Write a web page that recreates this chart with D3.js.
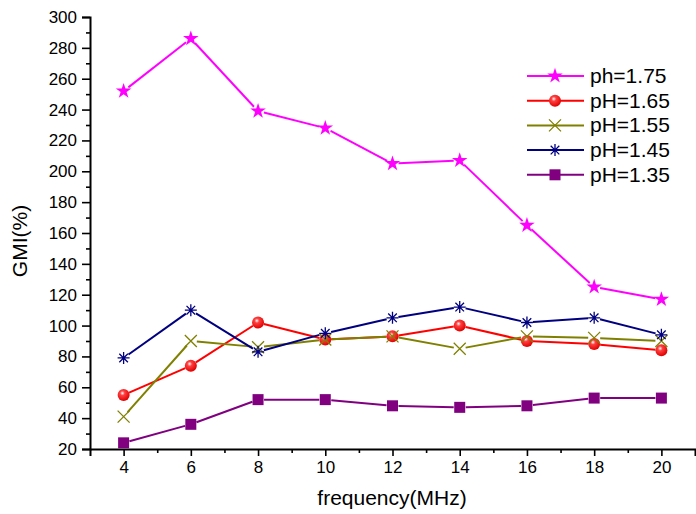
<!DOCTYPE html>
<html>
<head>
<meta charset="utf-8">
<script src="https://cdn.jsdelivr.net/npm/d3@7"></script>
<style>
  body { margin: 0; background: #fff; }
  svg { font-family: Arial, "Liberation Sans", sans-serif; }
</style>
</head>
<body>
<svg id="chart" width="696" height="514"></svg>
<script>
const freq = [4, 6, 8, 10, 12, 14, 16, 18, 20]
const ph175 = [252, 286, 239, 228, 205, 207, 165, 125, 117]
const ph165 = [55, 74, 102, 91, 93, 100, 90, 88, 84]
const ph155 = [41, 90, 86, 91, 93, 85, 93, 92, 90]
const ph145 = [79, 110, 83, 95, 105, 112, 102, 105, 94]
const ph135 = [24, 36, 52, 52, 48, 47, 48, 53, 53]
const seriesNames = ['ph=1.75', 'pH=1.65', 'pH=1.55', 'pH=1.45', 'pH=1.35']
const xTicks = [4, 6, 8, 10, 12, 14, 16, 18, 20]
const yTicks = [20, 40, 60, 80, 100, 120, 140, 160, 180, 200, 220, 240, 260, 280, 300]

const series = [
  { name: seriesNames[0], values: ph175, color: '#ff00ff', marker: 'star' },
  { name: seriesNames[1], values: ph165, color: '#ff0000', marker: 'ball' },
  { name: seriesNames[2], values: ph155, color: '#808000', marker: 'cross' },
  { name: seriesNames[3], values: ph145, color: '#000080', marker: 'asterisk' },
  { name: seriesNames[4], values: ph135, color: '#800080', marker: 'square' }
]

const svg = d3.select('#chart')
const x = d3.scaleLinear().domain([3, 21]).range([90, 695])
const y = d3.scaleLinear().domain([20, 300]).range([449, 17])

// gradient for the shiny red balls
const grad = svg.append('defs').append('radialGradient')
  .attr('id', 'ball').attr('cx', '40%').attr('cy', '35%').attr('r', '65%')
grad.append('stop').attr('offset', '0%').attr('stop-color', '#ffffff')
grad.append('stop').attr('offset', '30%').attr('stop-color', '#ff4040')
grad.append('stop').attr('offset', '100%').attr('stop-color', '#e00000')

// axes
const xAxis = svg.append('g').attr('transform', `translate(0,${y(20)})`)
  .call(d3.axisBottom(x).tickValues(xTicks).tickSize(7).tickPadding(5))
svg.append('g').attr('transform', `translate(0,${y(20)})`)
  .call(d3.axisBottom(x).tickValues(d3.range(5, 21, 2)).tickSize(4).tickFormat(''))
  .select('.domain').remove()

const yAxis = svg.append('g').attr('transform', `translate(${x(3)},0)`)
  .call(d3.axisLeft(y).tickValues(yTicks).tickSize(8).tickPadding(5))
svg.append('g').attr('transform', `translate(${x(3)},0)`)
  .call(d3.axisLeft(y).tickValues(d3.range(30, 300, 20)).tickSize(4).tickFormat(''))
  .select('.domain').remove()

svg.selectAll('.domain').attr('stroke-width', 2)
svg.selectAll('.tick line').attr('stroke-width', 1.6)
xAxis.selectAll('text').attr('font-size', 17).attr('fill', '#000')
yAxis.selectAll('text').attr('font-size', 17).attr('fill', '#000')
svg.selectAll('.tick text').attr('font-family', 'Arial, "Liberation Sans", sans-serif')

svg.append('text').attr('x', 392).attr('y', 505).attr('text-anchor', 'middle')
  .attr('font-size', 21).text('frequency(MHz)')
svg.append('text').attr('transform', 'translate(27,241) rotate(-90)').attr('text-anchor', 'middle')
  .attr('font-size', 21).text('GMI(%)')

function drawMarker (g, kind, color) {
  if (kind === 'star') {
    g.append('path').attr('d', d3.symbol(d3.symbolStar, 75)()).attr('fill', color)
  } else if (kind === 'ball') {
    g.append('circle').attr('r', 6).attr('fill', 'url(#ball)')
  } else if (kind === 'cross') {
    g.append('path').attr('d', 'M-6,-6L6,6M-6,6L6,-6').attr('stroke', color).attr('stroke-width', 1.3).attr('fill', 'none')
  } else if (kind === 'asterisk') {
    g.append('path').attr('d', 'M-6,0L6,0M0,-6L0,6M-4.3,-4.3L4.3,4.3M-4.3,4.3L4.3,-4.3')
      .attr('stroke', color).attr('stroke-width', 1.3).attr('fill', 'none')
  } else {
    g.append('rect').attr('x', -5.5).attr('y', -5.5).attr('width', 11).attr('height', 11).attr('fill', color)
  }
}

// lines with small gaps around markers, then markers
const gap = 6
series.forEach(s => {
  const pts = freq.map((f, i) => [x(f), y(s.values[i])])
  const g = svg.append('g')
  for (let i = 0; i < pts.length - 1; i++) {
    const [x1, y1] = pts[i]
    const [x2, y2] = pts[i + 1]
    const len = Math.hypot(x2 - x1, y2 - y1)
    const ux = (x2 - x1) / len
    const uy = (y2 - y1) / len
    g.append('line')
      .attr('x1', x1 + ux * gap).attr('y1', y1 + uy * gap)
      .attr('x2', x2 - ux * gap).attr('y2', y2 - uy * gap)
      .attr('stroke', s.color).attr('stroke-width', 2)
  }
})
series.forEach(s => {
  freq.forEach((f, i) => {
    const m = svg.append('g').attr('transform', `translate(${x(f)},${y(s.values[i])})`)
    drawMarker(m, s.marker, s.color)
  })
})

// legend
const legend = svg.append('g')
series.forEach((s, i) => {
  const ly = 76 + i * 24.7
  legend.append('line').attr('x1', 527).attr('x2', 584).attr('y1', ly).attr('y2', ly)
    .attr('stroke', s.color).attr('stroke-width', 2)
  const m = legend.append('g').attr('transform', `translate(555,${ly})`)
  drawMarker(m, s.marker, s.color)
  legend.append('text').attr('x', 590).attr('y', ly + 7).attr('font-size', 21).text(s.name)
})
</script>
</body>
</html>
